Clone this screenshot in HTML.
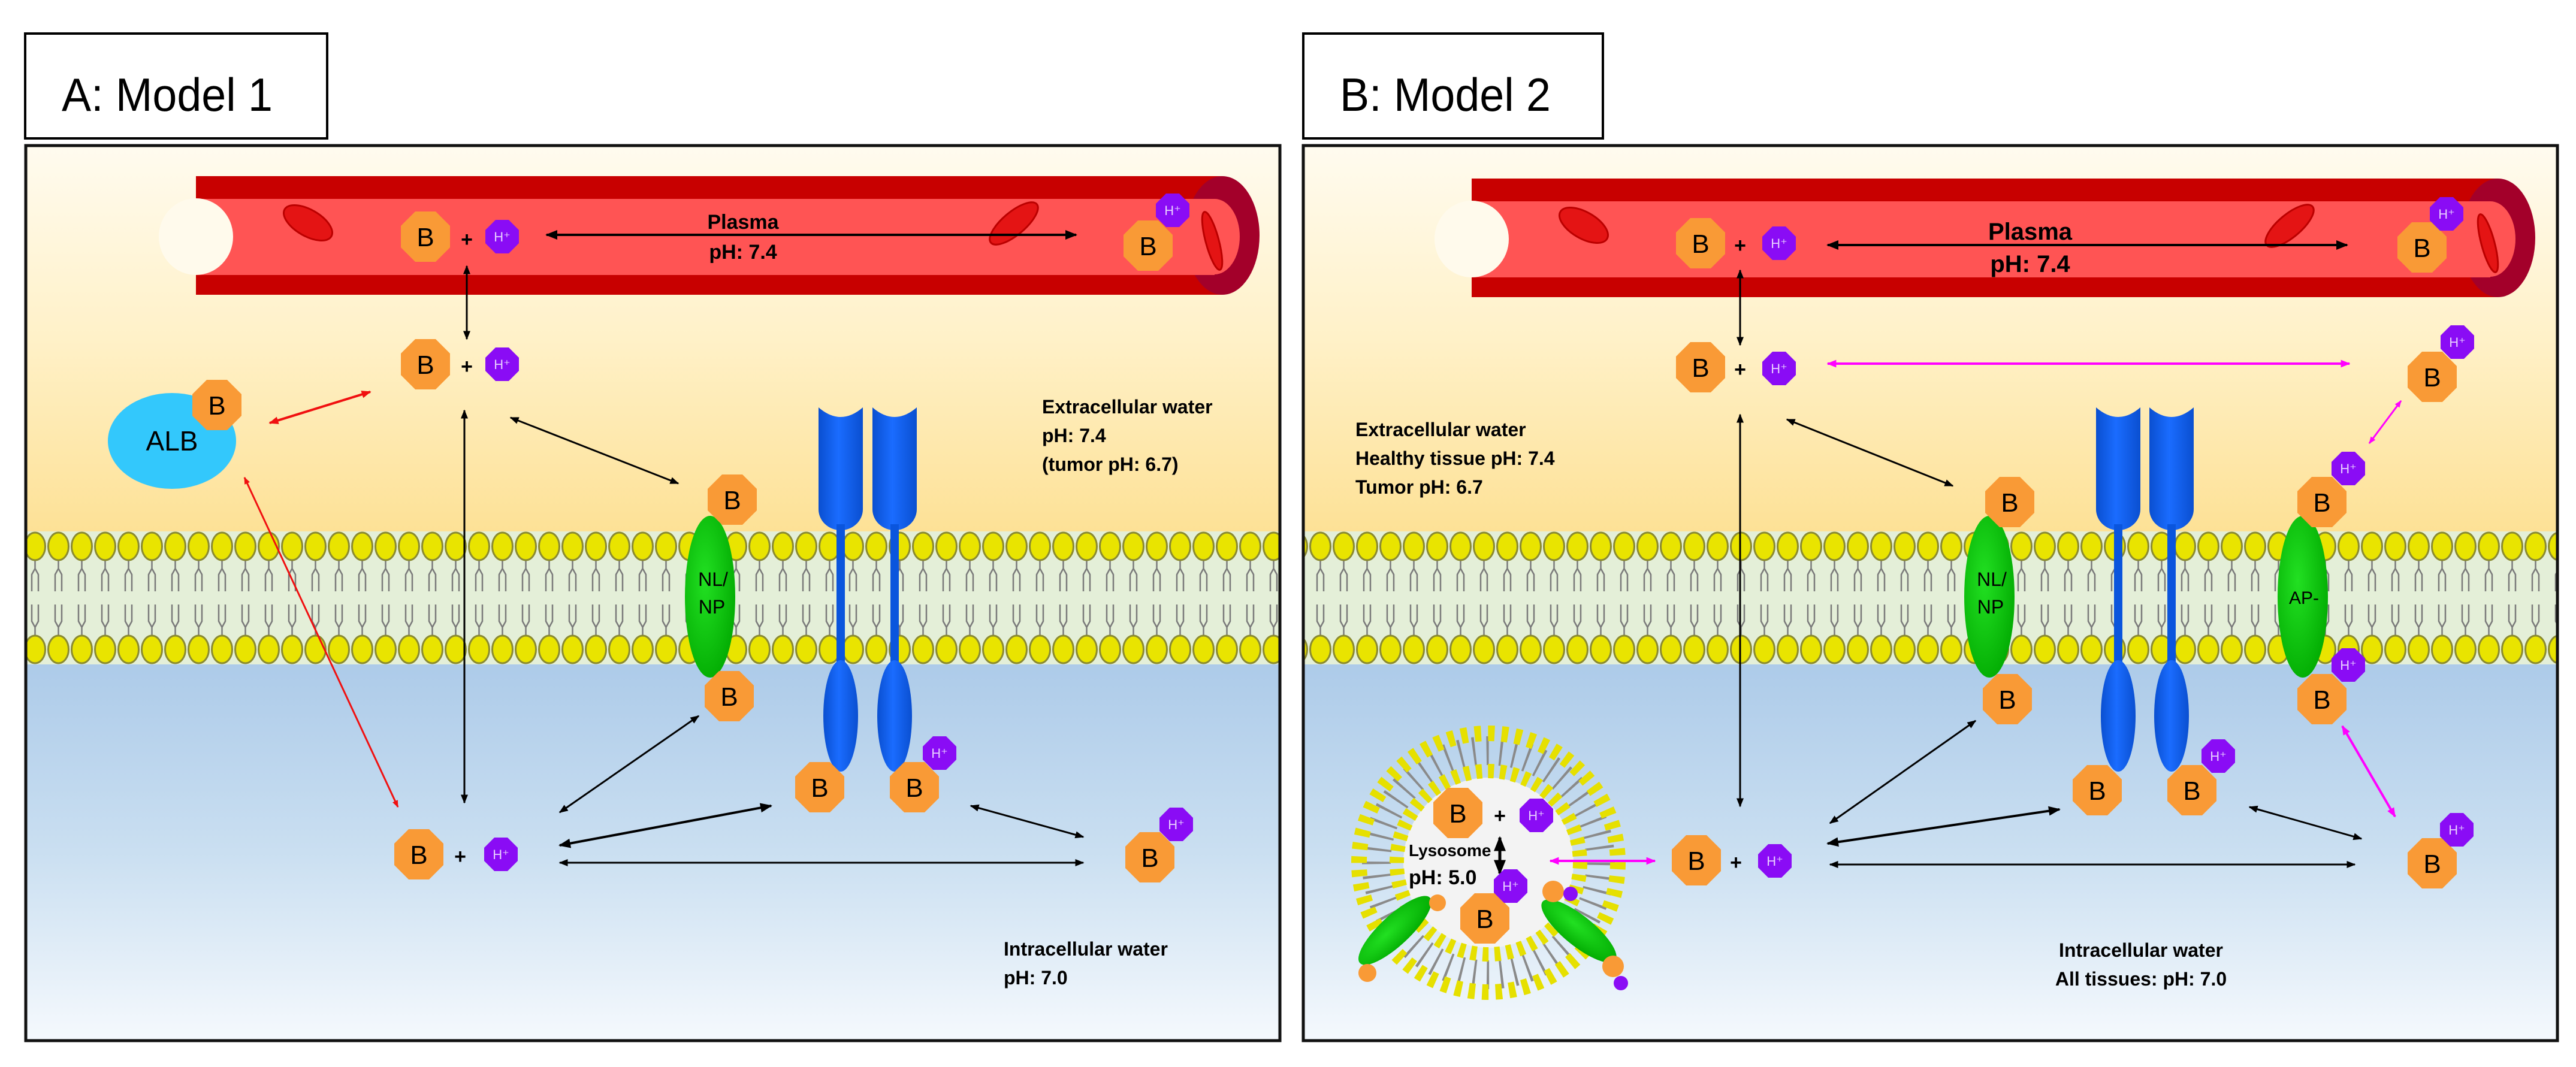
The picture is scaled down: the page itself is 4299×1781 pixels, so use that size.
<!DOCTYPE html>
<html><head><meta charset="utf-8">
<style>
html,body{margin:0;padding:0;background:#fff;}
svg{display:block;}
text{font-family:"Liberation Sans Narrow","Liberation Sans",sans-serif;}
</style></head>
<body>
<svg width="4299" height="1781" viewBox="0 0 4299 1781" xmlns="http://www.w3.org/2000/svg">
<defs>
  <linearGradient id="gTop" x1="0" y1="0" x2="0" y2="1">
    <stop offset="0" stop-color="#fffbef"/>
    <stop offset="0.5" stop-color="#fff1c8"/>
    <stop offset="1" stop-color="#fde196"/>
  </linearGradient>
  <linearGradient id="gBot" x1="0" y1="0" x2="0" y2="1">
    <stop offset="0" stop-color="#adcbe9"/>
    <stop offset="0.5" stop-color="#cadff1"/>
    <stop offset="1" stop-color="#f5f9fd"/>
  </linearGradient>
  <linearGradient id="gBlue" x1="0" y1="0" x2="1" y2="0">
    <stop offset="0" stop-color="#0a4fd0"/>
    <stop offset="0.45" stop-color="#1a6cff"/>
    <stop offset="1" stop-color="#0a4fd0"/>
  </linearGradient>
  <radialGradient id="gGreen" cx="0.4" cy="0.4" r="0.7">
    <stop offset="0" stop-color="#22e022"/>
    <stop offset="1" stop-color="#00a800"/>
  </radialGradient>
  <pattern id="mem" x="0" y="887" width="39" height="222" patternUnits="userSpaceOnUse">
    <rect width="39" height="222" fill="#e4efd8"/>
    <path d="M19.5 48 V62 L14 72 V100 M19.5 62 L25 72 V100 M14 122 V150 L19.5 160 V174 M25 122 V150 L19.5 160" stroke="#7a7a7a" stroke-width="2.5" fill="none"/>
    <ellipse cx="19.5" cy="25" rx="17" ry="23" fill="#e9e400" stroke="#8a8a30" stroke-width="3"/>
    <ellipse cx="19.5" cy="197" rx="17" ry="23" fill="#e9e400" stroke="#8a8a30" stroke-width="3"/>
  </pattern>
  <marker id="mk" viewBox="0 0 10 10" refX="9" refY="5" markerWidth="5" markerHeight="5" orient="auto-start-reverse"><path d="M0 1 L10 5 L0 9 Z" fill="#000"/></marker>
  <marker id="mr" viewBox="0 0 10 10" refX="9" refY="5" markerWidth="4" markerHeight="4" orient="auto-start-reverse"><path d="M0 1 L10 5 L0 9 Z" fill="#f01010"/></marker>
  <marker id="mm" viewBox="0 0 10 10" refX="9" refY="5" markerWidth="4" markerHeight="4" orient="auto-start-reverse"><path d="M0 1 L10 5 L0 9 Z" fill="#ff00ff"/></marker>
  <g id="ob"><polygon points="17,-42 41,-18 41,18 17,42 -17,42 -41,18 -41,-18 -17,-42" fill="#f99a36"/></g>
  <g id="oh"><polygon points="11,-28 28,-11 28,11 11,28 -11,28 -28,11 -28,-11 -11,-28" fill="#8a0cf5"/></g>
  <g id="rec">
    <path d="M-37,680 Q0,712 37,680 L37,850 A37,35 0 0 1 0,885 A37,35 0 0 1 -37,850 Z" fill="url(#gBlue)"/>
    <rect x="-7" y="875" width="14" height="240" fill="#0a55dd"/>
    <ellipse cx="0" cy="1195" rx="29" ry="93" fill="url(#gBlue)"/>
  </g>
  <g id="vessel">
    <rect x="327" y="294" width="1713" height="198" fill="#c80000"/>
    <ellipse cx="2040" cy="393" rx="62" ry="99" fill="#a3002a"/>
    <rect x="327" y="332" width="1700" height="127" fill="#ff5454"/>
    <ellipse cx="2027" cy="395" rx="42" ry="63" fill="#ff5454"/>
    <ellipse cx="327" cy="395" rx="62" ry="64" fill="#fffaec"/>
    <ellipse cx="514" cy="372" rx="45" ry="22" transform="rotate(30 514 372)" fill="#e41414" stroke="#b00" stroke-width="3"/>
    <ellipse cx="1692" cy="373" rx="50" ry="19" transform="rotate(-40 1692 373)" fill="#e41414" stroke="#b00" stroke-width="3"/>
    <ellipse cx="2023" cy="402" rx="11" ry="50" transform="rotate(-15 2023 402)" fill="#e41414" stroke="#b00" stroke-width="3"/>
  </g>
</defs>

<!-- Title boxes -->
<rect x="42" y="56" width="504" height="175" fill="#fff" stroke="#000" stroke-width="4"/>
<text x="103" y="185" font-size="78" textLength="352" lengthAdjust="spacingAndGlyphs">A: Model 1</text>
<rect x="2175" y="56" width="500" height="175" fill="#fff" stroke="#000" stroke-width="4"/>
<text x="2236" y="185" font-size="78" textLength="352" lengthAdjust="spacingAndGlyphs">B: Model 2</text>

<!-- Panel A background -->
<rect x="43" y="243" width="2093" height="644" fill="url(#gTop)"/>
<rect x="43" y="887" width="2093" height="222" fill="url(#mem)"/>
<rect x="43" y="1109" width="2093" height="628" fill="url(#gBot)"/>
<rect x="43" y="243" width="2093" height="1494" fill="none" stroke="#111" stroke-width="5"/>
<!-- Panel B background -->
<rect x="2175" y="243" width="2093" height="644" fill="url(#gTop)"/>
<rect x="2175" y="887" width="2093" height="222" fill="url(#mem)"/>
<rect x="2175" y="1109" width="2093" height="628" fill="url(#gBot)"/>
<rect x="2175" y="243" width="2093" height="1494" fill="none" stroke="#111" stroke-width="5"/>

<!-- ===== Panel A ===== -->
<use href="#vessel"/>
<text x="1240" y="382" font-size="34" font-weight="bold" text-anchor="middle">Plasma</text>
<text x="1240" y="432" font-size="34" font-weight="bold" text-anchor="middle">pH: 7.4</text>
<line x1="912" y1="392" x2="1796" y2="392" stroke="#000" stroke-width="4" marker-start="url(#mk)" marker-end="url(#mk)"/>

<use href="#rec" x="1403"/>
<use href="#rec" x="1493"/>

<ellipse cx="287" cy="736" rx="107" ry="80" fill="#33c8fc"/>
<text x="287" y="752" font-size="46" text-anchor="middle">ALB</text>
<ellipse cx="1185" cy="996" rx="42" ry="135" fill="url(#gGreen)"/>
<text x="1190" y="978" font-size="32" text-anchor="middle">NL/</text>
<text x="1188" y="1024" font-size="32" text-anchor="middle">NP</text>

<line x1="779" y1="444" x2="779" y2="566" stroke="#000" stroke-width="3" marker-start="url(#mk)" marker-end="url(#mk)"/>
<line x1="775" y1="685" x2="775" y2="1340" stroke="#000" stroke-width="3" marker-start="url(#mk)" marker-end="url(#mk)"/>
<line x1="852" y1="697" x2="1132" y2="807" stroke="#000" stroke-width="3" marker-start="url(#mk)" marker-end="url(#mk)"/>
<line x1="450" y1="706" x2="618" y2="654" stroke="#f01010" stroke-width="4" marker-start="url(#mr)" marker-end="url(#mr)"/>
<line x1="408" y1="797" x2="664" y2="1347" stroke="#f01010" stroke-width="3" marker-start="url(#mr)" marker-end="url(#mr)"/>
<line x1="934" y1="1411" x2="1287" y2="1345" stroke="#000" stroke-width="4" marker-start="url(#mk)" marker-end="url(#mk)"/>
<line x1="934" y1="1356" x2="1166" y2="1195" stroke="#000" stroke-width="3" marker-start="url(#mk)" marker-end="url(#mk)"/>
<line x1="934" y1="1440" x2="1808" y2="1440" stroke="#000" stroke-width="3" marker-start="url(#mk)" marker-end="url(#mk)"/>
<line x1="1620" y1="1345" x2="1808" y2="1397" stroke="#000" stroke-width="3" marker-start="url(#mk)" marker-end="url(#mk)"/>

<text x="1739" y="690" font-size="32" font-weight="bold">Extracellular water</text>
<text x="1739" y="738" font-size="32" font-weight="bold">pH: 7.4</text>
<text x="1739" y="786" font-size="32" font-weight="bold">(tumor pH: 6.7)</text>
<text x="1675" y="1595" font-size="32" font-weight="bold">Intracellular water</text>
<text x="1675" y="1643" font-size="32" font-weight="bold">pH: 7.0</text>

<g font-size="44" text-anchor="middle">
<use href="#ob" x="710" y="395"/><text x="710" y="411">B</text>
<use href="#ob" x="1916" y="410"/><text x="1916" y="426">B</text>
<use href="#ob" x="710" y="608"/><text x="710" y="624">B</text>
<use href="#ob" x="362" y="676"/><text x="362" y="692">B</text>
<use href="#ob" x="1222" y="834"/><text x="1222" y="850">B</text>
<use href="#ob" x="1217" y="1162"/><text x="1217" y="1178">B</text>
<use href="#ob" x="1368" y="1314"/><text x="1368" y="1330">B</text>
<use href="#ob" x="1526" y="1314"/><text x="1526" y="1330">B</text>
<use href="#ob" x="699" y="1426"/><text x="699" y="1442">B</text>
<use href="#ob" x="1919" y="1431"/><text x="1919" y="1447">B</text>
</g>
<g font-size="22" text-anchor="middle" fill="#e8d0ff">
<use href="#oh" x="838" y="395"/><text x="838" y="403">H⁺</text>
<use href="#oh" x="1957" y="351"/><text x="1957" y="359">H⁺</text>
<use href="#oh" x="838" y="608"/><text x="838" y="616">H⁺</text>
<use href="#oh" x="1568" y="1257"/><text x="1568" y="1265">H⁺</text>
<use href="#oh" x="836" y="1426"/><text x="836" y="1434">H⁺</text>
<use href="#oh" x="1963" y="1376"/><text x="1963" y="1384">H⁺</text>
</g>
<g font-size="34" text-anchor="middle" font-weight="bold">
<text x="779" y="411">+</text><text x="779" y="623">+</text><text x="768" y="1441">+</text>
</g>

<!-- ===== Panel B ===== -->
<use href="#vessel" x="2129" y="4"/>
<text x="3388" y="400" font-size="40" font-weight="bold" text-anchor="middle">Plasma</text>
<text x="3388" y="454" font-size="40" font-weight="bold" text-anchor="middle">pH: 7.4</text>
<line x1="3050" y1="409" x2="3917" y2="409" stroke="#000" stroke-width="4" marker-start="url(#mk)" marker-end="url(#mk)"/>

<use href="#rec" x="3535"/>
<use href="#rec" x="3624"/>

<ellipse cx="3320" cy="996" rx="42" ry="135" fill="url(#gGreen)"/>
<text x="3324" y="978" font-size="32" text-anchor="middle">NL/</text>
<text x="3322" y="1024" font-size="32" text-anchor="middle">NP</text>
<ellipse cx="3843" cy="996" rx="42" ry="135" fill="url(#gGreen)"/>
<text x="3845" y="1008" font-size="30" text-anchor="middle">AP-</text>

<line x1="2904" y1="451" x2="2904" y2="576" stroke="#000" stroke-width="3" marker-start="url(#mk)" marker-end="url(#mk)"/>
<line x1="2904" y1="692" x2="2904" y2="1346" stroke="#000" stroke-width="3" marker-start="url(#mk)" marker-end="url(#mk)"/>
<line x1="3050" y1="607" x2="3921" y2="607" stroke="#ff00ff" stroke-width="4" marker-start="url(#mm)" marker-end="url(#mm)"/>
<line x1="2982" y1="700" x2="3259" y2="811" stroke="#000" stroke-width="3" marker-start="url(#mk)" marker-end="url(#mk)"/>
<line x1="4007" y1="669" x2="3954" y2="740" stroke="#ff00ff" stroke-width="3" marker-start="url(#mm)" marker-end="url(#mm)"/>
<line x1="3054" y1="1374" x2="3297" y2="1203" stroke="#000" stroke-width="3" marker-start="url(#mk)" marker-end="url(#mk)"/>
<line x1="3050" y1="1408" x2="3437" y2="1351" stroke="#000" stroke-width="4" marker-start="url(#mk)" marker-end="url(#mk)"/>
<line x1="3054" y1="1443" x2="3930" y2="1443" stroke="#000" stroke-width="3" marker-start="url(#mk)" marker-end="url(#mk)"/>
<line x1="3754" y1="1347" x2="3941" y2="1400" stroke="#000" stroke-width="3" marker-start="url(#mk)" marker-end="url(#mk)"/>
<line x1="3909" y1="1212" x2="3997" y2="1363" stroke="#ff00ff" stroke-width="4" marker-start="url(#mm)" marker-end="url(#mm)"/>

<text x="2262" y="728" font-size="32" font-weight="bold">Extracellular water</text>
<text x="2262" y="776" font-size="32" font-weight="bold">Healthy tissue pH: 7.4</text>
<text x="2262" y="824" font-size="32" font-weight="bold">Tumor pH: 6.7</text>
<text x="3573" y="1597" font-size="32" font-weight="bold" text-anchor="middle">Intracellular water</text>
<text x="3573" y="1645" font-size="32" font-weight="bold" text-anchor="middle">All tissues: pH: 7.0</text>

<!-- Lysosome -->
<circle cx="2484" cy="1440" r="142" fill="#f3f3f3"/>
<circle cx="2484" cy="1440" r="187" fill="none" stroke="#8a8a8a" stroke-width="48" stroke-dasharray="4 18.5"/>
<circle cx="2484" cy="1440" r="216" fill="none" stroke="#e6e000" stroke-width="26" stroke-dasharray="11 11.6"/>
<circle cx="2484" cy="1440" r="153" fill="none" stroke="#e6e000" stroke-width="24" stroke-dasharray="10 10"/>
<ellipse cx="2328" cy="1553" rx="80" ry="25" transform="rotate(-43 2328 1553)" fill="url(#gGreen)"/>
<ellipse cx="2635" cy="1554" rx="78" ry="25" transform="rotate(39 2635 1554)" fill="url(#gGreen)"/>
<circle cx="2282" cy="1624" r="15" fill="#f99a36"/>
<circle cx="2399" cy="1507" r="14" fill="#f99a36"/>
<circle cx="2592" cy="1488" r="18" fill="#f99a36"/>
<circle cx="2621" cy="1492" r="12" fill="#8a0cf5"/>
<circle cx="2692" cy="1613" r="18" fill="#f99a36"/>
<circle cx="2705" cy="1641" r="12" fill="#8a0cf5"/>
<text x="2351" y="1429" font-size="28" font-weight="bold">Lysosome</text>
<text x="2351" y="1476" font-size="34" font-weight="bold">pH: 5.0</text>
<line x1="2503" y1="1398" x2="2503" y2="1458" stroke="#000" stroke-width="5" marker-start="url(#mk)" marker-end="url(#mk)"/>
<line x1="2587" y1="1437" x2="2762" y2="1437" stroke="#ff00ff" stroke-width="4" marker-start="url(#mm)" marker-end="url(#mm)"/>

<g font-size="44" text-anchor="middle">
<use href="#ob" x="2838" y="406"/><text x="2838" y="422">B</text>
<use href="#ob" x="4042" y="413"/><text x="4042" y="429">B</text>
<use href="#ob" x="2838" y="613"/><text x="2838" y="629">B</text>
<use href="#ob" x="4059" y="629"/><text x="4059" y="645">B</text>
<use href="#ob" x="3875" y="838"/><text x="3875" y="854">B</text>
<use href="#ob" x="3354" y="838"/><text x="3354" y="854">B</text>
<use href="#ob" x="3350" y="1167"/><text x="3350" y="1183">B</text>
<use href="#ob" x="3875" y="1167"/><text x="3875" y="1183">B</text>
<use href="#ob" x="3500" y="1319"/><text x="3500" y="1335">B</text>
<use href="#ob" x="3658" y="1319"/><text x="3658" y="1335">B</text>
<use href="#ob" x="2831" y="1436"/><text x="2831" y="1452">B</text>
<use href="#ob" x="4059" y="1441"/><text x="4059" y="1457">B</text>
<use href="#ob" x="2433" y="1357"/><text x="2433" y="1373">B</text>
<use href="#ob" x="2478" y="1533"/><text x="2478" y="1549">B</text>
</g>
<g font-size="22" text-anchor="middle" fill="#e8d0ff">
<use href="#oh" x="2969" y="406"/><text x="2969" y="414">H⁺</text>
<use href="#oh" x="4083" y="357"/><text x="4083" y="365">H⁺</text>
<use href="#oh" x="2969" y="615"/><text x="2969" y="623">H⁺</text>
<use href="#oh" x="4101" y="571"/><text x="4101" y="579">H⁺</text>
<use href="#oh" x="3919" y="782"/><text x="3919" y="790">H⁺</text>
<use href="#oh" x="3919" y="1110"/><text x="3919" y="1118">H⁺</text>
<use href="#oh" x="3702" y="1262"/><text x="3702" y="1270">H⁺</text>
<use href="#oh" x="2962" y="1437"/><text x="2962" y="1445">H⁺</text>
<use href="#oh" x="4100" y="1385"/><text x="4100" y="1393">H⁺</text>
<use href="#oh" x="2564" y="1361"/><text x="2564" y="1369">H⁺</text>
<use href="#oh" x="2521" y="1479"/><text x="2521" y="1487">H⁺</text>
</g>
<g font-size="34" text-anchor="middle" font-weight="bold">
<text x="2904" y="421">+</text><text x="2904" y="628">+</text><text x="2897" y="1451">+</text><text x="2503" y="1373">+</text>
</g>
</svg>
</body></html>
